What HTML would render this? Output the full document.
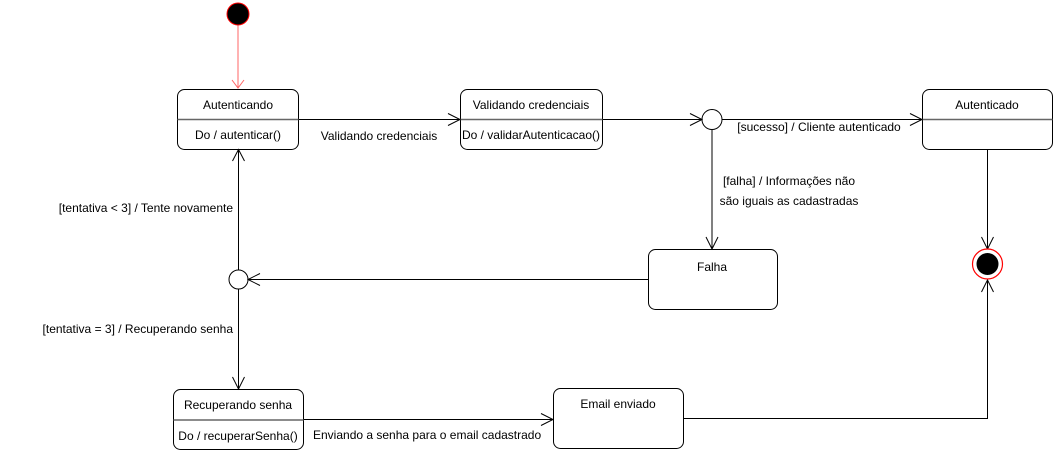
<!DOCTYPE html>
<html><head><meta charset="utf-8"><style>
html,body{margin:0;padding:0;background:#fff;}
svg{display:block;}
text{font-family:"Liberation Sans",Arial,sans-serif;font-size:12px;fill:#000;}
</style></head><body>
<svg width="1057" height="470" viewBox="0 0 1057 470" xmlns="http://www.w3.org/2000/svg">
<g fill="none" stroke="#000" stroke-width="1">
<!-- initial -->
<line x1="238" y1="25" x2="238" y2="88" stroke="#ff6666"/>
<polyline points="232,80 238,88 244,80" stroke="#ff6666"/>
<!-- Autenticando -->
<rect x="177.5" y="89.5" width="121" height="60" rx="7" fill="#fff"/>
<line x1="177.5" y1="119.5" x2="298.5" y2="119.5" stroke-width="1.5" stroke="#666"/>
<!-- Validando -->
<rect x="460.5" y="89.5" width="142" height="60" rx="7" fill="#fff"/>
<line x1="460.5" y1="119.5" x2="602.5" y2="119.5" stroke-width="1.5" stroke="#666"/>
<!-- Autenticado -->
<rect x="922.5" y="89.5" width="130" height="60" rx="7" fill="#fff"/>
<line x1="922.5" y1="119.5" x2="1052.5" y2="119.5" stroke-width="1.5" stroke="#666"/>
<!-- Falha -->
<rect x="648.5" y="249.5" width="129" height="60" rx="7" fill="#fff"/>
<!-- Recuperando -->
<rect x="173.5" y="389.5" width="130" height="60" rx="7" fill="#fff"/>
<line x1="173.5" y1="420" x2="303.5" y2="420" stroke-width="1.5" stroke="#666"/>
<!-- Email -->
<rect x="553.5" y="388.5" width="130" height="60" rx="7" fill="#fff"/>
<!-- edges -->
<line x1="298.5" y1="119.5" x2="460" y2="119.5"/>
<polyline points="448,113.5 460,119.5 448,125.5"/>
<line x1="602.5" y1="119.5" x2="702" y2="119.5"/>
<polyline points="690,113.5 702,119.5 690,125.5"/>
<circle cx="712" cy="119.5" r="10"/>
<line x1="722" y1="119.5" x2="922" y2="119.5"/>
<polyline points="910,113.5 922,119.5 910,125.5"/>
<line x1="712" y1="129.5" x2="712" y2="249"/>
<polyline points="706,237 712,249 718,237"/>
<line x1="987.5" y1="149.5" x2="987.5" y2="249"/>
<polyline points="981.5,237 987.5,249 993.5,237"/>
<line x1="648.5" y1="279.5" x2="248" y2="279.5"/>
<polyline points="260,273.5 248,279.5 260,285.5"/>
<circle cx="238.5" cy="279.5" r="9.5"/>
<line x1="238.5" y1="270" x2="238.5" y2="149.5"/>
<polyline points="232.5,161 238.5,149.5 244.5,161"/>
<line x1="238.5" y1="289" x2="238.5" y2="389"/>
<polyline points="232.5,377 238.5,389 244.5,377"/>
<line x1="303.5" y1="419.5" x2="553" y2="419.5"/>
<polyline points="541,413.5 553,419.5 541,425.5"/>
<polyline points="683.5,418.5 987.5,418.5 987.5,280"/>
<polyline points="981.5,292 987.5,280 993.5,292"/>
</g>
<circle cx="238" cy="14" r="11" fill="#000" stroke="#ff0000" stroke-width="1"/>
<circle cx="987.5" cy="264" r="15" fill="#fff" stroke="#ff0000" stroke-width="1.2"/>
<circle cx="987.5" cy="264" r="11" fill="#000"/>
<g text-anchor="middle">
<text x="238" y="109">Autenticando</text>
<text x="238" y="139">Do / autenticar()</text>
<text x="531" y="109">Validando credenciais</text>
<text x="531" y="139">Do / validarAutenticacao()</text>
<text x="987" y="109">Autenticado</text>
<text x="712" y="271">Falha</text>
<text x="238" y="409">Recuperando senha</text>
<text x="238" y="440">Do / recuperarSenha()</text>
<text x="618" y="408">Email enviado</text>
<text x="379" y="140">Validando credenciais</text>
<text x="819" y="131">[sucesso] / Cliente autenticado</text>
<text x="789" y="185">[falha] / Informações não</text>
<text x="789" y="205">são iguais as cadastradas</text>
</g>
<g text-anchor="end">
<text x="233" y="212">[tentativa &lt; 3] / Tente novamente</text>
<text x="233" y="333">[tentativa = 3] / Recuperando senha</text>
</g>
<text x="313" y="439">Enviando a senha para o email cadastrado</text>
</svg>
</body></html>
